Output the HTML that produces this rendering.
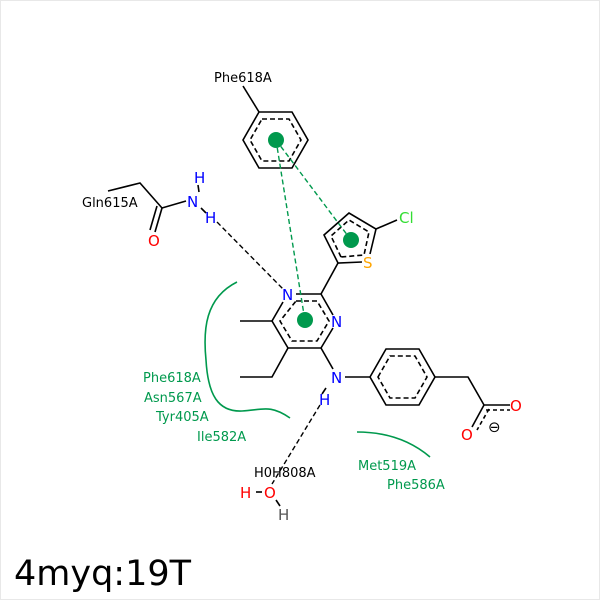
<!DOCTYPE html>
<html><head><style>
body{margin:0;background:#fff;}
svg{display:block;}
text{font-family:"DejaVu Sans","Liberation Sans",sans-serif;font-size:13px;}
.a{font-size:15px;}
</style></head><body>
<svg width="600" height="600" viewBox="0 0 600 600">
<rect x="0.5" y="0.5" width="599" height="599" fill="#fff" stroke="#e8e8e8"/>
<g stroke="#000" stroke-width="1.6" fill="none">
<polygon points="259,112 292,112 308,140 292,168 259,168 243,140"/>
<polygon points="262,119 289,119 301,140 289,161 262,161 250,140" stroke-dasharray="5,3"/>
<line x1="259" y1="112" x2="243" y2="86"/>
<polyline points="362,262 338,263 324,235 349,213 376,229 370,254"/>
<polygon points="341,257 331,236 349,220 369,232 364,255" stroke-dasharray="5,3"/>
<line x1="376" y1="229" x2="397" y2="220"/>
<line x1="338" y1="263" x2="321" y2="294"/>
<polyline points="296,294 321,294 333,315"/>
<polyline points="333,328 321,348 288,348 272,321 283,302"/>
<polygon points="296,301 317,301 329,321 317,341 292,341 280,321" stroke-dasharray="5,3"/>
<line x1="272" y1="321" x2="240" y2="321"/>
<polyline points="288,348 272,377 240,377"/>
<line x1="321" y1="348" x2="333" y2="369"/>
<line x1="345" y1="377" x2="370" y2="377"/>
<polygon points="370,377 386,349 419,349 435,377 419,405 386,405"/>
<polygon points="378,377 390,356 415,356 427,377 415,398 390,398" stroke-dasharray="5,3"/>
<polyline points="435,377 468,377 484,405 510,405"/>
<line x1="486" y1="410" x2="510" y2="410" stroke-dasharray="4,3"/>
<line x1="484" y1="405" x2="472" y2="427"/>
<line x1="489" y1="409" x2="477" y2="430" stroke-dasharray="4,3"/>
<polyline points="108,191 140,183 162,208 186,201"/>
<line x1="162" y1="208" x2="155" y2="232"/>
<line x1="157" y1="206" x2="150" y2="230"/>
<line x1="198" y1="185" x2="199" y2="192"/>
<line x1="201" y1="208" x2="206" y2="213"/>
<line x1="256" y1="492" x2="262" y2="492"/>
<line x1="276" y1="500" x2="280" y2="506"/>
<line x1="326" y1="388" x2="322" y2="394"/>
</g>
<g stroke="#000" stroke-width="1.4" fill="none" stroke-dasharray="5,3">
<line x1="217" y1="222" x2="283" y2="289"/>
<line x1="320" y1="405" x2="272" y2="484"/>
</g>
<g stroke="#00994d" stroke-width="1.4" fill="none" stroke-dasharray="5,3">
<line x1="276" y1="140" x2="305" y2="321"/>
<line x1="276" y1="140" x2="351" y2="240"/>
</g>
<g fill="#00994d">
<circle cx="276" cy="140" r="8"/>
<circle cx="351" cy="240" r="8"/>
<circle cx="305" cy="320" r="8"/>
</g>
<g stroke="#00994d" stroke-width="1.6" fill="none">
<path d="M237,282 C205,298 203,330 206,360 C208,395 218,412 242,411 C262,410 270,404 290,418"/>
<path d="M357,432 C385,432 410,440 430,457"/>
</g>
<g fill="#00f" class="a">
<text class="a" x="282" y="300">N</text>
<text class="a" x="331" y="327">N</text>
<text class="a" x="331" y="383">N</text>
<text class="a" x="319" y="405">H</text>
<text class="a" x="187" y="207">N</text>
<text class="a" x="194" y="183">H</text>
<text class="a" x="205" y="223">H</text>
</g>
<text class="a" x="363" y="268" fill="#ffa500">S</text>
<text class="a" x="399" y="223" fill="#33dd33">Cl</text>
<g fill="#f00">
<text class="a" x="148" y="246">O</text>
<text class="a" x="510" y="411">O</text>
<text class="a" x="461" y="440">O</text>
<text class="a" x="264" y="498">O</text>
<text class="a" x="240" y="498">H</text>
</g>
<text class="a" x="278" y="520" fill="#555">H</text>
<text x="488" y="432" class="a" fill="#000">⊖</text>
<g fill="#000">
<text x="214" y="82">Phe618A</text>
<text x="82" y="207">Gln615A</text>
<text x="254" y="477">H0H808A</text>
</g>
<g fill="#00994d">
<text x="143" y="382">Phe618A</text>
<text x="144" y="402">Asn567A</text>
<text x="156" y="421">Tyr405A</text>
<text x="197" y="441">Ile582A</text>
<text x="358" y="470">Met519A</text>
<text x="387" y="489">Phe586A</text>
</g>
<text x="14" y="585" style="font-size:35px" fill="#000">4myq:19T</text>
</svg>
</body></html>
